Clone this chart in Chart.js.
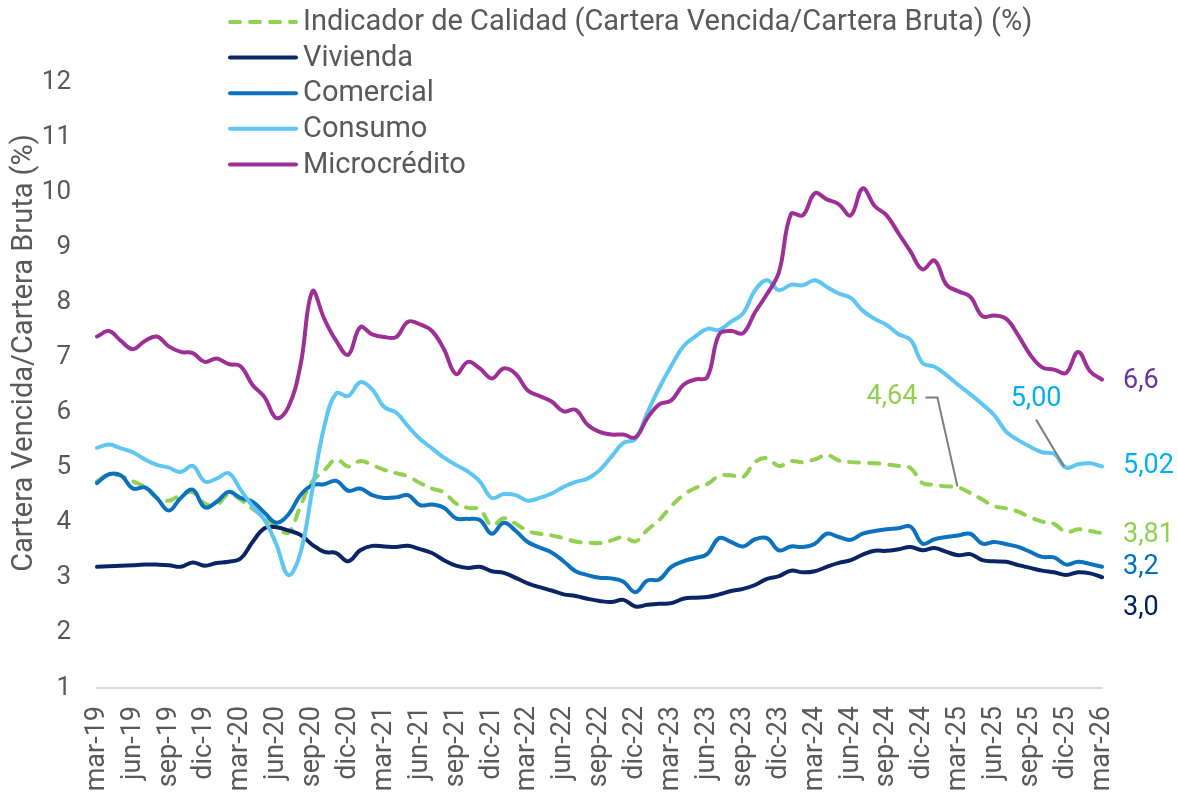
<!DOCTYPE html>
<html>
<head>
<meta charset="utf-8">
<script src="https://cdn.jsdelivr.net/npm/chart.js@4.4.1/dist/chart.umd.min.js"></script>
<style>
  html, body { margin: 0; padding: 0; background: #fff; }
  #wrap { width: 1178px; height: 799px; }
</style>
</head>
<body>
<div id="wrap"><canvas id="chart" width="1178" height="799"></canvas></div>
<script>
// meses (mar-19 .. mar-26)
const meses = [
  'mar-19','abr-19','may-19','jun-19','jul-19','ago-19','sep-19','oct-19','nov-19','dic-19',
  'ene-20','feb-20','mar-20','abr-20','may-20','jun-20','jul-20','ago-20','sep-20','oct-20','nov-20','dic-20',
  'ene-21','feb-21','mar-21','abr-21','may-21','jun-21','jul-21','ago-21','sep-21','oct-21','nov-21','dic-21',
  'ene-22','feb-22','mar-22','abr-22','may-22','jun-22','jul-22','ago-22','sep-22','oct-22','nov-22','dic-22',
  'ene-23','feb-23','mar-23','abr-23','may-23','jun-23','jul-23','ago-23','sep-23','oct-23','nov-23','dic-23',
  'ene-24','feb-24','mar-24','abr-24','may-24','jun-24','jul-24','ago-24','sep-24','oct-24','nov-24','dic-24',
  'ene-25','feb-25','mar-25','abr-25','may-25','jun-25','jul-25','ago-25','sep-25','oct-25','nov-25','dic-25',
  'ene-26','feb-26','mar-26'
];

const indicador = [
  4.75,4.88,4.85,4.75,4.65,4.45,4.40,4.50,4.55,4.35,
  4.32,4.52,4.42,4.25,4.10,3.92,3.82,4.30,4.75,4.95,
  5.15,5.02,5.12,5.05,4.96,4.90,4.84,4.72,4.62,4.55,
  4.35,4.27,4.24,3.95,4.08,3.98,3.85,3.80,3.77,3.72,
  3.66,3.64,3.63,3.68,3.74,3.66,3.87,4.05,4.30,4.50,
  4.63,4.70,4.85,4.86,4.83,5.10,5.17,5.03,5.12,5.10,
  5.15,5.23,5.13,5.10,5.09,5.08,5.06,5.03,4.99,4.72,
  4.69,4.66,4.64,4.54,4.42,4.30,4.26,4.20,4.10,4.02,
  3.98,3.83,3.88,3.85,3.81
];

const vivienda = [
  3.20,3.21,3.22,3.23,3.24,3.24,3.23,3.20,3.28,3.22,
  3.27,3.29,3.35,3.65,3.90,3.92,3.86,3.78,3.60,3.47,
  3.45,3.30,3.50,3.58,3.57,3.56,3.58,3.52,3.45,3.32,
  3.22,3.18,3.20,3.12,3.09,3.00,2.90,2.83,2.77,2.70,
  2.67,2.62,2.58,2.56,2.60,2.48,2.51,2.53,2.54,2.62,
  2.64,2.65,2.70,2.76,2.80,2.87,2.98,3.03,3.13,3.10,
  3.12,3.20,3.27,3.32,3.42,3.49,3.49,3.52,3.56,3.50,
  3.54,3.47,3.41,3.43,3.32,3.30,3.29,3.23,3.18,3.13,
  3.10,3.05,3.10,3.08,3.01
];

const comercial = [
  4.72,4.88,4.86,4.62,4.64,4.45,4.22,4.45,4.60,4.28,
  4.38,4.56,4.45,4.38,4.18,4.00,4.15,4.50,4.68,4.70,
  4.76,4.58,4.62,4.50,4.45,4.46,4.50,4.32,4.33,4.27,
  4.08,4.07,4.05,3.80,4.00,3.85,3.65,3.55,3.46,3.30,
  3.12,3.05,3.00,2.99,2.93,2.74,2.95,2.97,3.20,3.30,
  3.36,3.43,3.72,3.65,3.57,3.70,3.72,3.50,3.57,3.56,
  3.62,3.80,3.74,3.69,3.80,3.85,3.88,3.90,3.93,3.62,
  3.70,3.74,3.77,3.80,3.62,3.65,3.61,3.56,3.47,3.38,
  3.37,3.24,3.29,3.25,3.20
];

const consumo = [
  5.36,5.42,5.35,5.28,5.15,5.05,5.00,4.92,5.03,4.75,
  4.80,4.90,4.60,4.30,4.05,3.60,3.05,3.45,4.60,5.75,
  6.35,6.30,6.55,6.42,6.10,6.00,5.75,5.52,5.35,5.18,
  5.05,4.93,4.75,4.45,4.52,4.50,4.40,4.45,4.53,4.65,
  4.74,4.80,4.95,5.20,5.45,5.52,6.00,6.45,6.85,7.20,
  7.38,7.52,7.50,7.65,7.80,8.22,8.40,8.22,8.32,8.31,
  8.40,8.28,8.16,8.08,7.85,7.70,7.59,7.42,7.32,6.90,
  6.83,6.68,6.50,6.33,6.15,5.95,5.65,5.50,5.38,5.28,
  5.25,5.00,5.06,5.08,5.02
];

const microcredito = [
  7.38,7.48,7.30,7.15,7.30,7.38,7.20,7.10,7.08,6.92,
  6.98,6.88,6.84,6.50,6.28,5.90,6.10,6.85,8.20,7.70,
  7.30,7.05,7.55,7.42,7.37,7.37,7.65,7.60,7.48,7.15,
  6.70,6.92,6.80,6.62,6.80,6.70,6.40,6.30,6.20,6.02,
  6.05,5.78,5.65,5.60,5.60,5.55,5.90,6.15,6.22,6.50,
  6.60,6.64,7.42,7.48,7.44,7.82,8.15,8.55,9.60,9.58,
  9.98,9.87,9.78,9.58,10.07,9.75,9.58,9.25,8.92,8.60,
  8.76,8.32,8.20,8.10,7.75,7.76,7.70,7.40,7.05,6.82,
  6.78,6.72,7.10,6.75,6.60
];

const yTicks = [1, 2, 3, 4, 5, 6, 7, 8, 9, 10, 11, 12];
const tituloY = 'Cartera Vencida/Cartera Bruta (%)';

const GRIS = '#595959';
const FUENTE = 'Roboto, "Noto Sans", sans-serif';

// etiquetas al final de cada serie
const etiquetasFinal = [
  { ds: 0, dec: 2, color: '#92D050', dy: 2 },
  { ds: 1, dec: 1, color: '#002060', dy: 31 },
  { ds: 2, dec: 1, color: '#0070C0', dy: 0 },
  { ds: 3, dec: 2, color: '#00B0F0', dy: 0 },
  { ds: 4, dec: 1, color: '#7030A0', dy: 2 }
];

// anotaciones con línea guía
const anotaciones = [
  { ds: 0, idx: 72, color: '#92D050', tx: -66, ty: -90, codo: [-33, -21] },
  { ds: 3, idx: 81, color: '#00B0F0', tx: -30, ty: -68, codo: null }
];

function fmt(v, d) {
  return v.toFixed(d).replace('.', ',');
}

const extrasPlugin = {
  id: 'extras',
  afterDraw(chart) {
    const ctx = chart.ctx;
    const xs = chart.scales.x;
    const ys = chart.scales.y;
    ctx.save();

    // leyenda
    ctx.font = '29px ' + FUENTE;
    ctx.textBaseline = 'middle';
    ctx.textAlign = 'left';
    chart.data.datasets.forEach((ds, i) => {
      const y = 22 + i * 35.6;
      ctx.beginPath();
      ctx.strokeStyle = ds.borderColor;
      ctx.lineWidth = 4;
      ctx.lineCap = 'round';
      ctx.setLineDash(ds.borderDash || []);
      ctx.moveTo(230, y);
      ctx.lineTo(296, y);
      ctx.stroke();
      ctx.setLineDash([]);
      ctx.fillStyle = GRIS;
      ctx.fillText(ds.label, 303, y + 1);
    });

    // título eje Y
    ctx.save();
    ctx.translate(25, 353);
    ctx.rotate(-Math.PI / 2);
    ctx.textAlign = 'center';
    ctx.font = '29px ' + FUENTE;
    ctx.fillStyle = GRIS;
    ctx.fillText(tituloY, 0, 0);
    ctx.restore();

    // etiquetas finales
    ctx.font = '27px ' + FUENTE;
    ctx.textAlign = 'left';
    etiquetasFinal.forEach(e => {
      const data = chart.data.datasets[e.ds].data;
      const n = data.length - 1;
      const px = xs.getPixelForValue(n);
      const py = ys.getPixelForValue(data[n]);
      ctx.fillStyle = e.color;
      ctx.fillText(fmt(data[n], e.dec), px + 21, py + e.dy);
    });

    // anotaciones
    anotaciones.forEach(a => {
      const v = chart.data.datasets[a.ds].data[a.idx];
      const px = xs.getPixelForValue(a.idx);
      const py = ys.getPixelForValue(v);
      ctx.strokeStyle = '#7F7F7F';
      ctx.lineWidth = 2;
      ctx.lineCap = 'butt';
      ctx.beginPath();
      if (a.codo) {
        ctx.moveTo(px + a.codo[0], py + a.ty);
        ctx.lineTo(px + a.codo[1], py + a.ty);
        ctx.lineTo(px - 1, py - 1);
        ctx.stroke();
        ctx.fillStyle = a.color;
        ctx.textAlign = 'right';
        ctx.fillText(fmt(v, 2), px + a.codo[0] - 8, py + a.ty);
      } else {
        ctx.moveTo(px + a.tx, py + a.ty + 20);
        ctx.lineTo(px - 2, py - 1);
        ctx.stroke();
        ctx.fillStyle = a.color;
        ctx.textAlign = 'center';
        ctx.fillText(fmt(v, 2), px + a.tx, py + a.ty);
      }
    });

    ctx.restore();
  }
};

const lineaBase = { fill: false, pointRadius: 0, pointHoverRadius: 0, borderWidth: 4, tension: 0.4,
  borderCapStyle: 'round', borderJoinStyle: 'round' };

new Chart(document.getElementById('chart'), {
  type: 'line',
  data: {
    labels: meses,
    datasets: [
      Object.assign({ label: 'Indicador de Calidad (Cartera Vencida/Cartera Bruta) (%)', data: indicador,
        borderColor: '#92D050', borderDash: [10, 10], order: 5 }, lineaBase),
      Object.assign({ label: 'Vivienda', data: vivienda, borderColor: '#0B2463', order: 4 }, lineaBase),
      Object.assign({ label: 'Comercial', data: comercial, borderColor: '#0B72C0', order: 3 }, lineaBase),
      Object.assign({ label: 'Consumo', data: consumo, borderColor: '#5DC6F2', order: 2 }, lineaBase),
      Object.assign({ label: 'Microcrédito', data: microcredito, borderColor: '#9E3095', order: 1 }, lineaBase)
    ]
  },
  options: {
    responsive: false,
    animation: false,
    devicePixelRatio: 1,
    layout: { padding: { top: 82, right: 76, left: 0, bottom: 0 } },
    plugins: {
      legend: { display: false },
      tooltip: { enabled: false }
    },
    scales: {
      x: {
        offset: false,
        grid: { display: false, drawTicks: false },
        border: { display: true, color: '#D9D9D9', width: 2 },
        ticks: {
          autoSkip: false,
          maxRotation: 90,
          minRotation: 90,
          padding: 18,
          color: GRIS,
          font: { size: 27, family: FUENTE },
          callback: function(val, i) { return i % 3 === 0 ? meses[i] : ''; }
        },
        afterFit(scale) { scale.height = 111; }
      },
      y: {
        min: 1,
        max: 12,
        afterBuildTicks(scale) { scale.ticks = yTicks.map(v => ({ value: v })); },
        grid: { display: false, drawTicks: false },
        border: { display: false },
        ticks: {
          padding: 26,
          color: GRIS,
          font: { size: 26, family: FUENTE }
        },
        afterFit(scale) { scale.width = 97; }
      }
    }
  },
  plugins: [extrasPlugin]
});
</script>
</body>
</html>
